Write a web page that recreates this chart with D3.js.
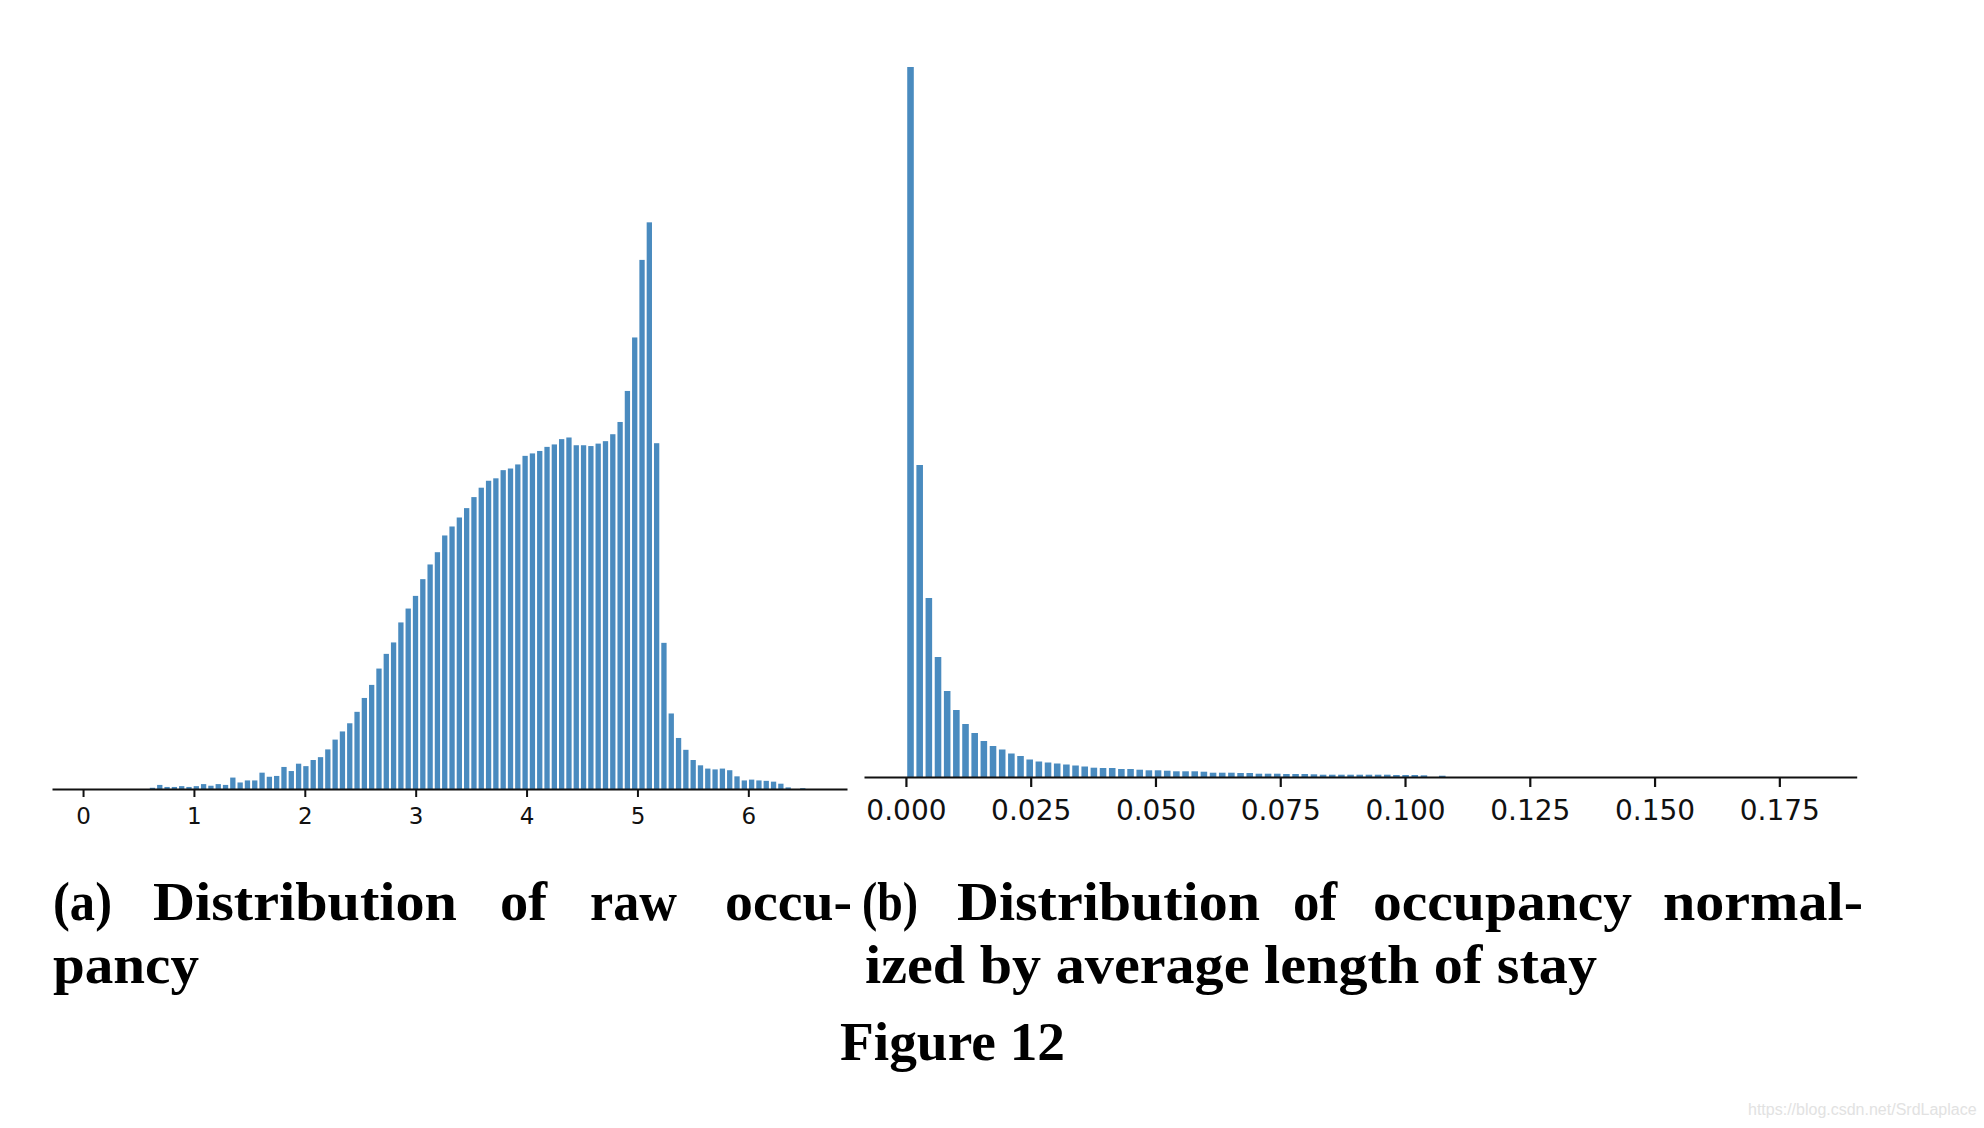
<!DOCTYPE html>
<html><head><meta charset="utf-8">
<script src="https://cdn.jsdelivr.net/npm/d3@7"></script>
<style>html,body{margin:0;padding:0;background:#fff;} svg{display:block}</style>
</head><body>
<svg id="fig" width="1984" height="1128"></svg>
<script>
// ---- Panel (a): raw occupancy histogram (100 bins starting at 0) ----
const binStartA = 0;
const binWidthA = 0.0659;
const countsA = [
  0,0,0,0,0,0,0,0,0,3,
  10,5,5,7,5,7,12,8,12,10,
  28,16,21,21,40,30,32,54,44,62,
  56,71,78,97,121,141,161,189,223,255,
  295,331,359,408,442,473,514,550,580,621,
  643,665,688,715,738,755,761,781,785,795,
  816,822,828,838,844,857,861,842,842,840,
  846,852,869,899,975,1106,1296,1388,847,358,
  185,125,96,71,58,50,48,50,46,31,
  21,23,21,20,18,13,4,0,2,0
];
const ticksA = [0,1,2,3,4,5,6];
const tickLabelsA = ["0","1","2","3","4","5","6"];

// ---- Panel (b): occupancy normalised by average length of stay ----
const binStartB = 0;
const binWidthB = 0.001837;
const countsB = [
  7100,3120,1790,1200,860,670,530,440,360,310,
  275,235,210,175,155,145,135,125,115,105,
  93,90,90,80,80,73,67,67,63,57,
  57,57,53,43,43,43,40,40,33,33,
  33,30,30,30,27,23,23,23,23,23,
  23,23,23,20,20,20,17,0,13,0
];
const ticksB = [0,0.025,0.05,0.075,0.1,0.125,0.15,0.175];
const tickLabelsB = ["0.000","0.025","0.050","0.075","0.100","0.125","0.150","0.175"];

// ---- Captions ----
const captionA1 = [["(a)",53,59],["Distribution",153,304],["of",500,47],["raw",590,87],["occu-",725,127]];
const captionA2 = [["pancy",53,146]];
const captionB1 = [["(b)",862,56],["Distribution",957,303],["of",1293,44],["occupancy",1373,259],["normal-",1663,200]];
const captionB2 = [["ized by average length of stay",865,732]];
const figureTitle = [["Figure 12",840,225]];

const BAR = "#4a8bbf";
const svg = d3.select("#fig");

function drawHist(o){
  const x = d3.scaleLinear().domain(o.xDomain).range(o.xRange);
  const y = d3.scaleLinear().domain([0, d3.max(o.counts)*1.05]).range([o.y0, o.y0 - o.yLen]);
  const g = svg.append("g");
  g.selectAll("rect").data(o.counts.map((v,i)=>({v,i})).filter(d=>d.v>0))
    .enter().append("rect")
    .attr("x", d => x(o.binStart + d.i*o.binWidth) + o.gap/2)
    .attr("width", d => x(o.binStart + (d.i+1)*o.binWidth) - x(o.binStart + d.i*o.binWidth) - o.gap)
    .attr("y", d => y(d.v))
    .attr("height", d => y(0) - y(d.v))
    .attr("fill", BAR);
  const axis = d3.axisBottom(x).tickValues(o.ticks)
    .tickFormat((d,i)=>o.tickLabels[i])
    .tickSizeInner(o.tickLen).tickSizeOuter(0).tickPadding(o.pad);
  const ag = g.append("g").attr("transform", `translate(0,${o.y0})`).call(axis);
  ag.select(".domain").attr("stroke","#111").attr("stroke-width",o.spine);
  ag.selectAll(".tick line").attr("stroke","#111").attr("stroke-width",o.spine);
  ag.selectAll(".tick text").attr("fill","#111")
    .style("font-family","'DejaVu Sans', sans-serif").style("font-size",o.font+"px");
}

drawHist({counts:countsA, binStart:binStartA, binWidth:binWidthA,
  xDomain:[-0.28,6.89], xRange:[52,847], y0:789, yLen:595,
  ticks:ticksA, tickLabels:tickLabelsA, tickLen:8, pad:11, font:23, spine:2, gap:2});

drawHist({counts:countsB, binStart:binStartB, binWidth:binWidthB,
  xDomain:[-0.0084,0.1905], xRange:[864,1856.7], y0:777, yLen:745.5,
  ticks:ticksB, tickLabels:tickLabelsB, tickLen:10, pad:13, font:28, spine:2.2, gap:2.6});

function words(list, baseline){
  list.forEach(([t,x,w])=>{
    svg.append("text").attr("x",x).attr("y",baseline)
      .attr("textLength",w).attr("lengthAdjust","spacingAndGlyphs")
      .style("font-family","'Liberation Serif', 'DejaVu Serif', serif")
      .style("font-weight","bold").style("font-size","54px").attr("fill","#000")
      .text(t);
  });
}
words(captionA1, 920);
words(captionA2, 983);
words(captionB1, 920);
words(captionB2, 983);
words(figureTitle, 1060);

svg.append("text").attr("x",1748).attr("y",1115)
  .style("font-family","'Liberation Sans', Arial, sans-serif").style("font-size","16px")
  .attr("fill","#e2e2e2").text("https://blog.csdn.net/SrdLaplace");
</script>
</body></html>
